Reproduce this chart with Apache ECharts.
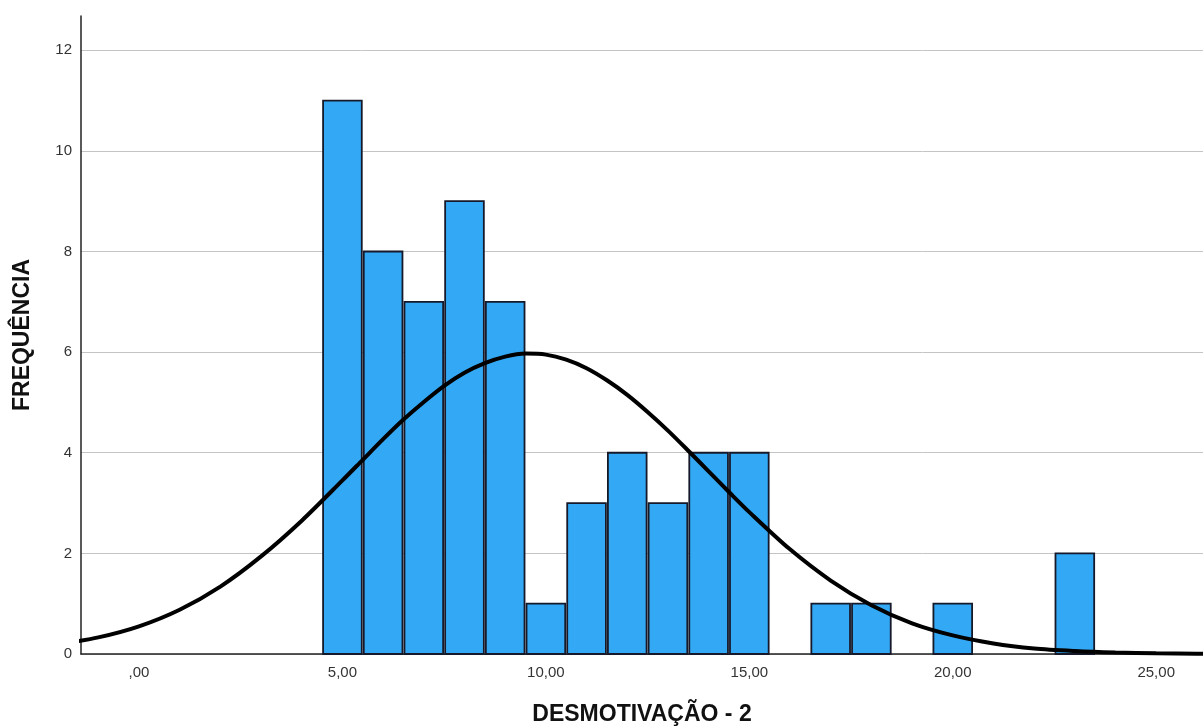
<!DOCTYPE html>
<html>
<head>
<meta charset="utf-8">
<script src="https://cdn.jsdelivr.net/npm/echarts@6/dist/echarts.min.js"></script>
<style>
  html, body { margin: 0; padding: 0; background: #fff; }
  #chart { width: 1203px; height: 726px; }
</style>
</head>
<body>
<div id="chart"></div>
<script>
// histograma: valor central da classe e frequência
var binCenters = [5, 6, 7, 8, 9, 10, 11, 12, 13, 14, 15, 17, 18, 20, 23];
var frequencies = [11, 8, 7, 9, 7, 1, 3, 4, 3, 4, 4, 1, 1, 1, 2];

// curva normal
var curveX = [-2, -1, 0, 1, 2, 3, 4, 5, 5.5, 6, 6.5, 7, 7.5, 8, 8.5, 9, 9.5, 10, 10.5, 11, 11.5, 12, 12.5, 13, 13.5, 14, 14.5, 15, 16, 17, 18, 19, 20, 21, 22, 23, 24, 25, 26, 27];
var curveY = [0.19, 0.33, 0.55, 0.88, 1.34, 1.94, 2.65, 3.45, 3.86, 4.27, 4.66, 5.01, 5.33, 5.59, 5.78, 5.91, 5.97, 5.95, 5.85, 5.68, 5.44, 5.15, 4.81, 4.44, 4.04, 3.63, 3.22, 2.82, 2.08, 1.46, 0.97, 0.61, 0.37, 0.21, 0.11, 0.06, 0.03, 0.013, 0.006, 0.003];

var xTicks = [0, 5, 10, 15, 20, 25];
var yTicks = [0, 2, 4, 6, 8, 10, 12];

var chart = echarts.init(document.getElementById('chart'));

var barData = binCenters.map(function (c, i) { return [c, frequencies[i]]; });
var curveData = curveX.map(function (x, i) { return [x, curveY[i]]; });

function fmtX(v) {
  var s = Number(v).toFixed(2).replace('.', ',');
  return s.indexOf('0,') === 0 ? s.slice(1) : s;
}

chart.setOption({
  animation: false,
  textStyle: { fontFamily: 'Liberation Sans, Arial, sans-serif' },
  grid: { left: 81, right: 0, top: 16, bottom: 72, outerBoundsMode: 'none' },
  xAxis: {
    type: 'value',
    min: -1.425,
    max: 26.15,
    name: 'DESMOTIVAÇÃO - 2',
    nameLocation: 'middle',
    nameGap: 49,
    nameTextStyle: { fontSize: 23, fontWeight: 'bold', color: '#111' },
    axisLine: { onZero: false, lineStyle: { color: '#222', width: 1.5 } },
    axisTick: { show: false },
    splitLine: { show: false },
    axisLabel: {
      customValues: xTicks,
      formatter: fmtX,
      fontSize: 15,
      color: '#333',
      margin: 11
    }
  },
  yAxis: {
    type: 'value',
    min: 0,
    max: 12.68,
    name: 'FREQUÊNCIA',
    nameLocation: 'middle',
    nameGap: 47,
    nameRotate: 90,
    nameTextStyle: { fontSize: 23, fontWeight: 'bold', color: '#111' },
    axisLine: { show: true, onZero: false, lineStyle: { color: '#222', width: 1.5 } },
    axisTick: { show: false, customValues: yTicks },
    axisLabel: { customValues: yTicks, fontSize: 15, color: '#333', margin: 9 },
    splitLine: { lineStyle: { color: '#c4c4c4', width: 1 } }
  },
  series: [
    {
      type: 'custom',
      data: barData,
      renderItem: function (params, api) {
        var c = api.value(0);
        var f = api.value(1);
        var p0 = api.coord([c - 0.5, f]);
        var p1 = api.coord([c + 0.5, 0]);
        return {
          type: 'rect',
          shape: { x: p0[0] + 1, y: p0[1], width: p1[0] - p0[0] - 2, height: p1[1] - p0[1] },
          style: { fill: '#33a9f6', stroke: '#15192a', lineWidth: 1.8 }
        };
      },
      encode: { x: 0, y: 1 },
      z: 2
    },
    {
      type: 'line',
      data: curveData,
      smooth: 0.3,
      showSymbol: false,
      lineStyle: { color: '#000', width: 4 },
      z: 3
    }
  ]
});
</script>
</body>
</html>
